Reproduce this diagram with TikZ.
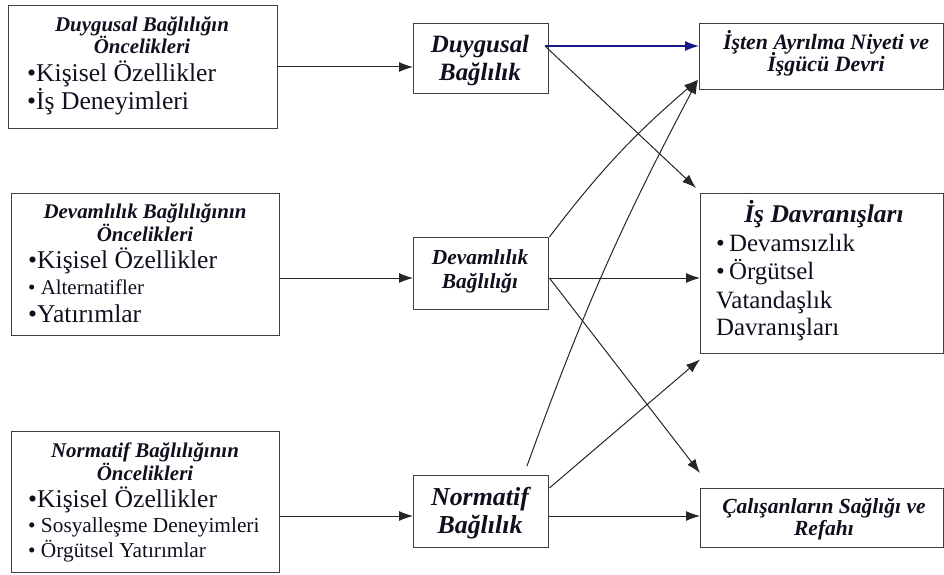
\documentclass[tikz,border=0pt]{standalone}
\usepackage{fontspec}
\setmainfont{Liberation Serif}
\usetikzlibrary{arrows.meta}
\definecolor{navy}{RGB}{25,25,140}
\definecolor{ink}{RGB}{15,15,30}
\begin{document}
\begin{tikzpicture}[x=1bp,y=-1bp,
  box/.style={draw=black!75, line width=1.4bp, inner sep=0pt, anchor=north west},
  ttl/.style={font=\bfseries\itshape\fontsize{#1}{#1}\selectfont, text=ink, anchor=base, inner sep=0pt},
  itm/.style={font=\fontsize{#1}{#1}\selectfont, text=ink, anchor=base west, inner sep=0pt},
  arr/.style={-{Latex[length=14bp,width=10bp]}, line width=1bp, black!85},
  blarr/.style={-{Latex[length=14bp,width=10bp]}, line width=1.1bp, navy}
]
\useasboundingbox (0,0) rectangle (944,575);
% boxes
\node[box, minimum width=269bp, minimum height=123bp] (b1) at (8,5) {};
\node[box, minimum width=268bp, minimum height=142bp] (b2) at (11,193) {};
\node[box, minimum width=268bp, minimum height=141bp] (b3) at (11,431) {};
\node[box, minimum width=135bp, minimum height=70bp] (m1) at (413,23) {};
\node[box, minimum width=135bp, minimum height=72bp] (m2) at (413,237) {};
\node[box, minimum width=135bp, minimum height=72bp] (m3) at (413,475) {};
\node[box, minimum width=244bp, minimum height=66bp] (r1) at (699,23) {};
\node[box, minimum width=243bp, minimum height=160bp] (r2) at (700,193) {};
\node[box, minimum width=243bp, minimum height=59bp] (r3) at (700,488) {};
% box 1 texts
\node[ttl=21] (t1a) at (142,32) {Duygusal Bağlılığın};
\node[ttl=21] (t1b) at (142,54) {Öncelikleri};
\node[itm=25.7] (t1c) at (27,82) {•Kişisel Özellikler};
\node[itm=25.7] (t1d) at (27,110) {•İş Deneyimleri};
% box 2 texts
\node[ttl=21] (t2a) at (145,219) {Devamlılık Bağlılığının};
\node[ttl=21] (t2b) at (145,242) {Öncelikleri};
\node[itm=25.7] (t2c) at (28,269) {•Kişisel Özellikler};
\node[itm=21] (t2d) at (28,294) {• Alternatifler};
\node[itm=25.7] (t2e) at (28,322) {•Yatırımlar};
% box 3 texts
\node[ttl=21] (t3a) at (145,457) {Normatif Bağlılığının};
\node[ttl=21] (t3b) at (145,480) {Öncelikleri};
\node[itm=25.7] (t3c) at (28,507) {•Kişisel Özellikler};
\node[itm=21.4] (t3d) at (28,532) {• Sosyalleşme Deneyimleri};
\node[itm=21.4] (t3e) at (28,557) {• Örgütsel Yatırımlar};
% middle texts
\node[ttl=25] (u1a) at (480,53) {Duygusal};
\node[ttl=25] (u1b) at (480,81) {Bağlılık};
\node[ttl=21.5] (u2a) at (480,265) {Devamlılık};
\node[ttl=21.5] (u2b) at (480,288) {Bağlılığı};
\node[ttl=26] (u3a) at (480,505) {Normatif};
\node[ttl=26] (u3b) at (480,533) {Bağlılık};
% right texts
\node[ttl=22] (v1a) at (826,50) {İşten Ayrılma Niyeti ve};
\node[ttl=22] (v1b) at (826,72) {İşgücü Devri};
\node[ttl=25.6] (v2a) at (824,223) {İş Davranışları};
\node[itm=25] (v2b) at (716,252) {•\,Devamsızlık};
\node[itm=25] (v2c) at (716,280) {•\,Örgütsel};
\node[itm=25] (v2d) at (716,308) {Vatandaşlık};
\node[itm=25] (v2e) at (716,335) {Davranışları};
\node[ttl=21.6] (v3a) at (824,513) {Çalışanların Sağlığı ve};
\node[ttl=21.6] (v3b) at (824,535) {Refahı};
% coordinates
\coordinate (nstart) at (527,466);
\coordinate (dstart) at (545,46);
% arrows left to middle
\draw[arr] (b1.east |- 0,67) -- (m1.west |- 0,67);
\draw[arr] (b2.east |- 0,278) -- (m2.west |- 0,278);
\draw[arr] (b3.east |- 0,516) -- (m3.west |- 0,516);
% from Duygusal
\draw[blarr] (dstart) -- (r1.west |- dstart);
\draw[arr] (dstart) -- ([xshift=-4bp,yshift=5bp]r2.north west);
% from Devamlilik
\draw[arr] (m2.north east) to[bend left=6] ([xshift=-1bp,yshift=-23bp]r1.west);
\draw[arr] (m2.east |- 0,278) -- (r2.west |- 0,278);
\draw[arr] (m2.east |- 0,278) -- ([yshift=15bp]r3.north west);
% from Normatif
\draw[arr] (nstart) to[bend left=4] ([xshift=-1bp,yshift=-23bp]r1.west);
\draw[arr] (m3.east |- 0,488) -- ([yshift=-5bp]r2.south west);
\draw[arr] (m3.east |- 0,516) -- (r3.west |- 0,516);
\end{tikzpicture}
\end{document}
